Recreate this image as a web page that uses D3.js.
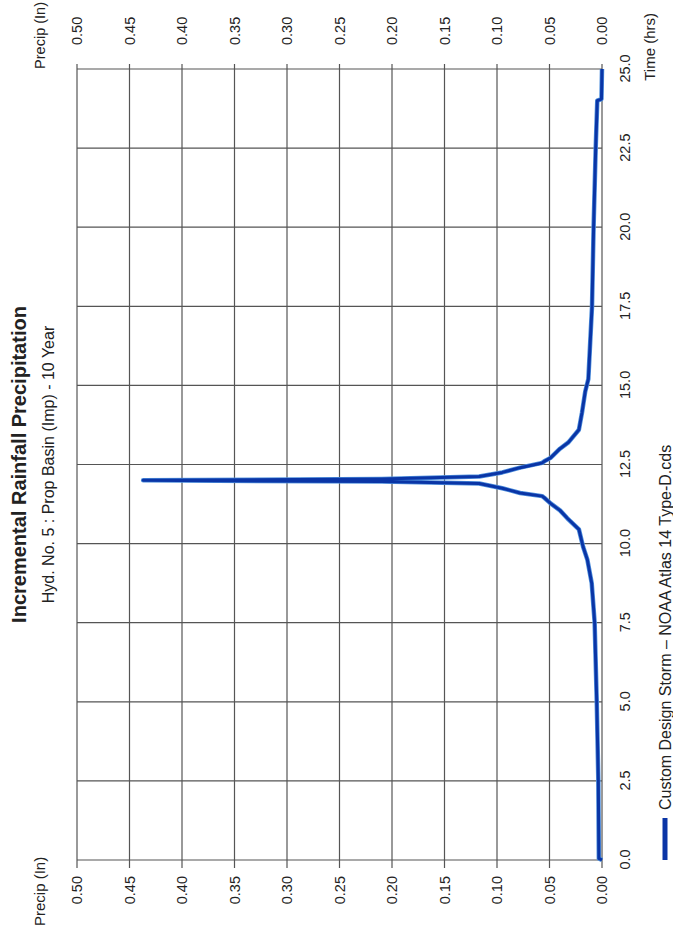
<!DOCTYPE html>
<meta charset="utf-8">
<style>
	body { margin: 0; background: #fff; }
	svg text { font-family: "Liberation Sans", Arial, sans-serif; fill: #222; }
</style>
<svg width="673" height="934"></svg>
<script src="https://d3js.org/d3.v7.min.js"></script>
<script>
	// hyetograph (hrs, inches)
	var timeHrs = [0, 0.05, 2.5, 5.0, 7.5, 8.75, 9.5, 9.9, 10.45, 10.8, 11.05, 11.27, 11.45, 11.5, 11.6, 11.75, 11.9, 11.96, 12.0,
		12.04, 12.12, 12.25, 12.4, 12.55, 12.6, 12.71, 13.0, 13.2, 13.6, 14.15, 14.8, 15.2, 17.5, 20.0, 22.5, 24.0, 24.05, 25.0]
	var precipIn = [0, 0.003, 0.0035, 0.005, 0.007, 0.0098, 0.014, 0.018, 0.022, 0.033, 0.040, 0.049, 0.055, 0.057, 0.078, 0.095, 0.117, 0.21, 0.437,
		0.21, 0.117, 0.095, 0.078, 0.057, 0.055, 0.049, 0.040, 0.032, 0.022, 0.019, 0.016, 0.013, 0.0095, 0.008, 0.006, 0.0045, 0.0005, 0]

	var timeTicks = [0, 2.5, 5, 7.5, 10, 12.5, 15, 17.5, 20, 22.5, 25]
	var precipTicks = [0, 0.05, 0.10, 0.15, 0.20, 0.25, 0.30, 0.35, 0.40, 0.45, 0.50]

	var title = 'Incremental Rainfall Precipitation',
		subtitle = 'Hyd. No. 5 : Prop Basin (Imp) - 10 Year',
		legendLabel = 'Custom Design Storm – NOAA Atlas 14 Type-D.cds'

	var data = timeHrs.map((t, i) => ({ t: t, p: precipIn[i] }))

	// the page is a landscape chart turned a quarter turn counter-clockwise
	var W = 934, H = 673
	var svg = d3.select('svg'),
		g = svg.append('g').attr('transform', 'translate(0,' + W + ') rotate(-90)')

	var x = d3.scaleLinear().domain([0, 25]).range([74, 865]),
		y = d3.scaleLinear().domain([0, 0.5]).range([602, 77])

	var gridColor = '#555'

	// grid
	g.append('g').selectAll('line').data(precipTicks).enter().append('line')
		.attr('x1', x(0) - 8).attr('x2', x(25) + 5)
		.attr('y1', d => y(d)).attr('y2', d => y(d))
		.attr('stroke', gridColor).attr('stroke-width', 1.2)
	g.append('g').selectAll('line').data(timeTicks).enter().append('line')
		.attr('x1', d => x(d)).attr('x2', d => x(d))
		.attr('y1', y(0)).attr('y2', y(0.5))
		.attr('stroke', gridColor).attr('stroke-width', 1.2)

	// axes (labels only, grid drawn above)
	var yLeft = d3.axisLeft(y).tickValues(precipTicks).tickFormat(d3.format('.2f')).tickSize(8).tickPadding(8),
		yRight = d3.axisRight(y).tickValues(precipTicks).tickFormat(d3.format('.2f')).tickSize(5).tickPadding(19),
		xAxis = d3.axisBottom(x).tickValues(timeTicks).tickFormat(d3.format('.1f')).tickSize(0).tickPadding(18)

	function tidy(sel) {
		sel.select('.domain').remove()
		sel.selectAll('line').remove()
		sel.selectAll('text').attr('font-size', 14.5).attr('fill', '#222')
			.style('font-family', '"Liberation Sans", Arial, sans-serif')
	}
	g.append('g').attr('transform', 'translate(' + x(0) + ',0)').call(yLeft).call(tidy)
	g.append('g').attr('transform', 'translate(' + x(25) + ',0)').call(yRight).call(tidy)
	g.append('g').attr('transform', 'translate(0,' + y(0) + ')').call(xAxis).call(tidy)

	// axis titles
	g.append('text').attr('x', 8).attr('y', 45).attr('font-size', 15).text('Precip (In)')
	g.append('text').attr('x', 932).attr('y', 45).attr('font-size', 14.5).attr('text-anchor', 'end').text('Precip (In)')
	g.append('text').attr('x', 921).attr('y', 655).attr('font-size', 15).attr('text-anchor', 'end').text('Time (hrs)')

	// titles
	g.append('text').attr('x', (x(0) + x(25)) / 2).attr('y', 26).attr('text-anchor', 'middle')
		.attr('font-size', 20).attr('font-weight', 'bold').text(title)
	g.append('text').attr('x', (x(0) + x(25)) / 2).attr('y', 54).attr('text-anchor', 'middle')
		.attr('font-size', 16).text(subtitle)

	// series: light halo under a dark core, like the printed line
	var line = d3.line().x(d => x(d.t)).y(d => y(d.p))
	g.append('path')
		.attr('d', line(data))
		.attr('fill', 'none')
		.attr('stroke', '#4f8fdc')
		.attr('stroke-width', 4.5)
		.attr('stroke-linejoin', 'round')
	g.append('path')
		.attr('d', line(data))
		.attr('fill', 'none')
		.attr('stroke', '#0a35a6')
		.attr('stroke-width', 3)
		.attr('stroke-linejoin', 'round')

	// legend
	g.append('line').attr('x1', 74).attr('x2', 116).attr('y1', 665).attr('y2', 665)
		.attr('stroke', '#0a35a6').attr('stroke-width', 5)
	g.append('text').attr('x', 124).attr('y', 671).attr('font-size', 16).text(legendLabel)
</script>
